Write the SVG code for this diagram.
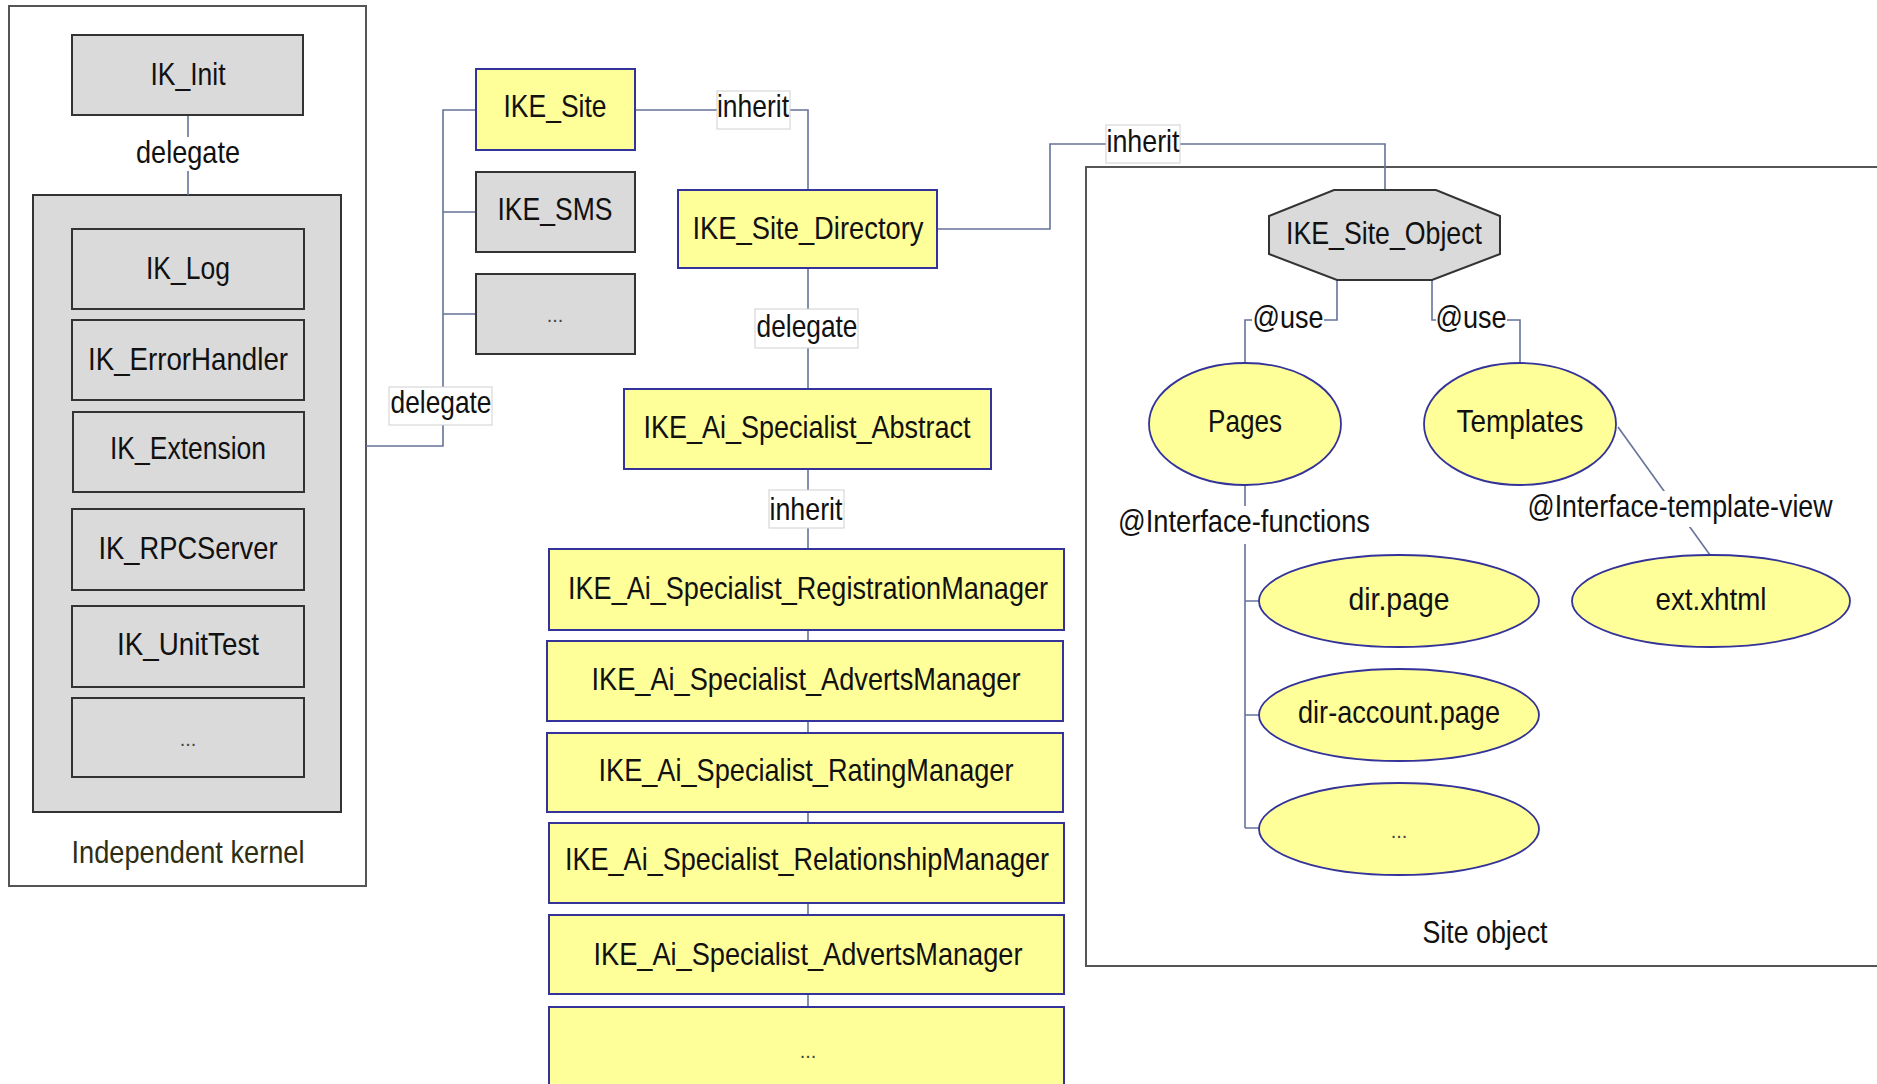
<svg xmlns="http://www.w3.org/2000/svg" width="1877" height="1084" viewBox="0 0 1877 1084">
<style>
text{font-family:"Liberation Sans",Arial,sans-serif;font-size:32px;fill:#111;text-anchor:middle}
.dots{font-size:20px;fill:#444}
.gbox{fill:#dadada;stroke:#333;stroke-width:2}
.ybox{fill:#ffff99;stroke:#333399;stroke-width:2}
.yell{fill:#ffff99;stroke:#333399;stroke-width:1.8}
.frame{fill:#fff;stroke:#555;stroke-width:2}
.con{fill:none;stroke:#65739a;stroke-width:1.6}
.lbl{fill:#fff;stroke:#d0d0d0;stroke-width:1}
.lbn{fill:#fff;stroke:none}
</style>
<rect width="1877" height="1084" fill="#fff"/>

<!-- containers -->
<g id="independent-kernel">
<rect class="frame" x="9" y="6" width="357" height="880"/>
<text x="188" y="863" textLength="233" lengthAdjust="spacingAndGlyphs" style="fill:#2e2e12">Independent kernel</text>
</g>
<g id="site-object">
<path class="frame" d="M1900 167 H1086 V966 H1900"/>
<text x="1485" y="943" textLength="125" lengthAdjust="spacingAndGlyphs">Site object</text>
</g>
<g id="kernel-inner"><rect class="gbox" x="33" y="195" width="308" height="617"/></g>

<!-- connectors -->
<g id="connectors">
<path class="con" d="M188 115 V195"/>
<path class="con" d="M366 446 H443 V110 H476 M443 212 H476 M443 314 H476"/>
<path class="con" d="M635 110 H808 V190"/>
<path class="con" d="M808 268 V389"/>
<path class="con" d="M808 469 V549 M808 630 V641 M808 721 V733 M808 812 V823 M808 903 V915 M808 994 V1007"/>
<path class="con" d="M937 229 H1050 V144 H1385 V190"/>
<path class="con" d="M1337 280 V320 H1245 V363"/>
<path class="con" d="M1432 280 V320 H1520 V363"/>
<path class="con" d="M1245 485 V828 M1245 601 H1259 M1245 715 H1259 M1245 828 H1259"/>
<path class="con" d="M1618 427 L1710 555"/>
<rect class="lbn" x="135" y="137" width="106" height="34"/>
<text x="188" y="163" textLength="104" lengthAdjust="spacingAndGlyphs">delegate</text>
<rect class="lbl" x="389" y="387" width="103" height="38"/>
<text x="441" y="413" textLength="101" lengthAdjust="spacingAndGlyphs">delegate</text>
<rect class="lbl" x="717" y="91" width="73" height="38"/>
<text x="753" y="117" textLength="72" lengthAdjust="spacingAndGlyphs">inherit</text>
<rect class="lbl" x="755" y="309" width="103" height="39"/>
<text x="807" y="337" textLength="101" lengthAdjust="spacingAndGlyphs">delegate</text>
<rect class="lbl" x="769" y="490" width="75" height="38"/>
<text x="806" y="520" textLength="73" lengthAdjust="spacingAndGlyphs">inherit</text>
<rect class="lbl" x="1106" y="125" width="74" height="38"/>
<text x="1143" y="152" textLength="73" lengthAdjust="spacingAndGlyphs">inherit</text>
<rect class="lbn" x="1252" y="304" width="72" height="32"/>
<text x="1288" y="328" textLength="71" lengthAdjust="spacingAndGlyphs">@use</text>
<rect class="lbn" x="1436" y="304" width="71" height="32"/>
<text x="1471" y="328" textLength="71" lengthAdjust="spacingAndGlyphs">@use</text>
<rect class="lbn" x="1116" y="506" width="256" height="38"/>
<text x="1244" y="532" textLength="252" lengthAdjust="spacingAndGlyphs">@Interface-functions</text>
<rect class="lbn" x="1527" y="491" width="307" height="36"/>
<text x="1680" y="517" textLength="305" lengthAdjust="spacingAndGlyphs">@Interface-template-view</text>
</g>

<!-- kernel nodes -->
<g id="IK_Init"><rect class="gbox" x="72" y="35" width="231" height="80"/><text x="188" y="85" textLength="75" lengthAdjust="spacingAndGlyphs">IK_Init</text></g>
<g id="IK_Log"><rect class="gbox" x="72" y="229" width="232" height="80"/><text x="188" y="279" textLength="84" lengthAdjust="spacingAndGlyphs">IK_Log</text></g>
<g id="IK_ErrorHandler"><rect class="gbox" x="72" y="320" width="232" height="80"/><text x="188" y="370" textLength="200" lengthAdjust="spacingAndGlyphs">IK_ErrorHandler</text></g>
<g id="IK_Extension"><rect class="gbox" x="73" y="412" width="231" height="80"/><text x="188" y="459" textLength="156" lengthAdjust="spacingAndGlyphs">IK_Extension</text></g>
<g id="IK_RPCServer"><rect class="gbox" x="72" y="509" width="232" height="81"/><text x="188" y="559" textLength="179" lengthAdjust="spacingAndGlyphs">IK_RPCServer</text></g>
<g id="IK_UnitTest"><rect class="gbox" x="72" y="606" width="232" height="81"/><text x="188" y="655" textLength="142" lengthAdjust="spacingAndGlyphs">IK_UnitTest</text></g>
<g id="IK_more"><rect class="gbox" x="72" y="698" width="232" height="79"/><text class="dots" x="188" y="746">...</text></g>

<!-- IKE nodes -->
<g id="IKE_Site"><rect class="ybox" x="476" y="69" width="159" height="81"/><text x="555" y="117" textLength="103" lengthAdjust="spacingAndGlyphs">IKE_Site</text></g>
<g id="IKE_SMS"><rect class="gbox" x="476" y="172" width="159" height="80"/><text x="555" y="220" textLength="115" lengthAdjust="spacingAndGlyphs">IKE_SMS</text></g>
<g id="IKE_more"><rect class="gbox" x="476" y="274" width="159" height="80"/><text class="dots" x="555" y="322">...</text></g>
<g id="IKE_Site_Directory"><rect class="ybox" x="678" y="190" width="259" height="78"/><text x="808" y="239" textLength="231" lengthAdjust="spacingAndGlyphs">IKE_Site_Directory</text></g>
<g id="IKE_Ai_Specialist_Abstract"><rect class="ybox" x="624" y="389" width="367" height="80"/><text x="807" y="438" textLength="327" lengthAdjust="spacingAndGlyphs">IKE_Ai_Specialist_Abstract</text></g>
<g id="IKE_Ai_Specialist_RegistrationManager"><rect class="ybox" x="549" y="549" width="515" height="81"/><text x="808" y="599" textLength="480" lengthAdjust="spacingAndGlyphs">IKE_Ai_Specialist_RegistrationManager</text></g>
<g id="IKE_Ai_Specialist_AdvertsManager_1"><rect class="ybox" x="547" y="641" width="516" height="80"/><text x="806" y="690" textLength="429" lengthAdjust="spacingAndGlyphs">IKE_Ai_Specialist_AdvertsManager</text></g>
<g id="IKE_Ai_Specialist_RatingManager"><rect class="ybox" x="547" y="733" width="516" height="79"/><text x="806" y="781" textLength="415" lengthAdjust="spacingAndGlyphs">IKE_Ai_Specialist_RatingManager</text></g>
<g id="IKE_Ai_Specialist_RelationshipManager"><rect class="ybox" x="549" y="823" width="515" height="80"/><text x="807" y="870" textLength="484" lengthAdjust="spacingAndGlyphs">IKE_Ai_Specialist_RelationshipManager</text></g>
<g id="IKE_Ai_Specialist_AdvertsManager_2"><rect class="ybox" x="549" y="915" width="515" height="79"/><text x="808" y="965" textLength="429" lengthAdjust="spacingAndGlyphs">IKE_Ai_Specialist_AdvertsManager</text></g>
<g id="IKE_Ai_more"><rect class="ybox" x="549" y="1007" width="515" height="100"/><text class="dots" x="808" y="1058">...</text></g>

<!-- site object nodes -->
<g id="IKE_Site_Object"><polygon points="1334,190 1436,190 1500,216 1500,254 1432,280 1337,280 1269,254 1269,216" style="fill:#dadada;stroke:#333;stroke-width:2"/><text x="1384" y="244" textLength="196" lengthAdjust="spacingAndGlyphs">IKE_Site_Object</text></g>
<g id="Pages"><ellipse class="yell" cx="1245" cy="424" rx="96" ry="61"/><text x="1245" y="432" textLength="74" lengthAdjust="spacingAndGlyphs">Pages</text></g>
<g id="Templates"><ellipse class="yell" cx="1520" cy="424" rx="96" ry="61"/><text x="1520" y="432" textLength="127" lengthAdjust="spacingAndGlyphs">Templates</text></g>
<g id="dir_page"><ellipse class="yell" cx="1399" cy="601" rx="140" ry="46"/><text x="1399" y="610" textLength="101" lengthAdjust="spacingAndGlyphs">dir.page</text></g>
<g id="dir_account_page"><ellipse class="yell" cx="1399" cy="715" rx="140" ry="46"/><text x="1399" y="723" textLength="202" lengthAdjust="spacingAndGlyphs">dir-account.page</text></g>
<g id="pages_more"><ellipse class="yell" cx="1399" cy="829" rx="140" ry="46"/><text class="dots" x="1399" y="838">...</text></g>
<g id="ext_xhtml"><ellipse class="yell" cx="1711" cy="601" rx="139" ry="46"/><text x="1711" y="610" textLength="111" lengthAdjust="spacingAndGlyphs">ext.xhtml</text></g>
</svg>
